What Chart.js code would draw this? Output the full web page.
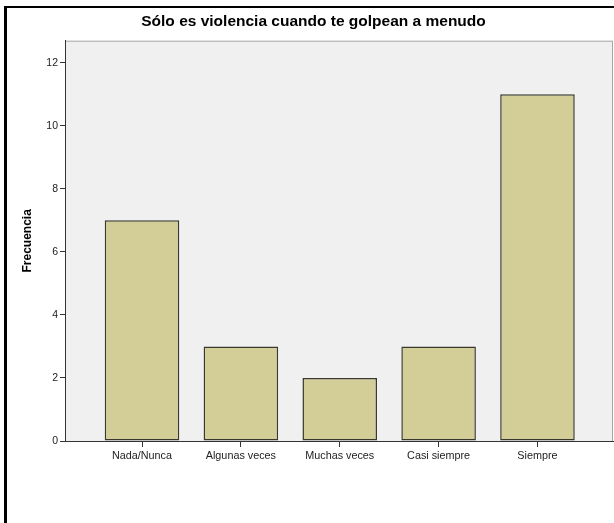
<!DOCTYPE html>
<html>
<head>
<meta charset="utf-8">
<script src="https://cdn.jsdelivr.net/npm/chart.js@4"></script>
<style>
  html, body { margin: 0; padding: 0; background: #fff; }
  #wrap { width: 614px; height: 523px; position: relative; }
</style>
</head>
<body>
<div id="wrap"><canvas id="chart"></canvas></div>
<script>
// Chart data
const categories = ['Nada/Nunca', 'Algunas veces', 'Muchas veces', 'Casi siempre', 'Siempre'];
const frequencies = [7, 3, 2, 3, 11];
const yTicks = [0, 2, 4, 6, 8, 10, 12];

// Plot background, plot frame and the outer black frame
const framePlugin = {
    id: 'frame',
    beforeDraw(chart) {
        const { ctx, chartArea: a } = chart;
        ctx.save();
        ctx.fillStyle = '#ffffff';
        ctx.fillRect(0, 0, chart.width, chart.height);
        ctx.fillStyle = '#f0f0f0';
        ctx.fillRect(a.left, a.top, a.right - a.left, a.bottom - a.top);
        ctx.strokeStyle = '#a8a8a8';
        ctx.lineWidth = 1;
        ctx.strokeRect(a.left + 0.5, a.top + 0.5, a.right - a.left - 1, a.bottom - a.top);
        ctx.restore();
    },
    afterDraw(chart) {
        const ctx = chart.ctx;
        ctx.save();
        ctx.fillStyle = '#000000';
        ctx.fillRect(4, 6, chart.width - 4, 2);   // top line
        ctx.fillRect(4, 6, 3, chart.height - 6);  // left line
        ctx.restore();
    }
};

new Chart(document.getElementById('chart'), {
    type: 'bar',
    data: {
        datasets: [{
            data: categories.map((c, i) => ({ x: i, y: frequencies[i] })),
            backgroundColor: '#d3ce97',
            borderColor: '#38382e',
            borderWidth: 1.5,
            borderSkipped: false,
            categoryPercentage: 1,
            barPercentage: 0.754
        }]
    },
    options: {
        responsive: true,
        maintainAspectRatio: false,
        animation: false,
        layout: { padding: { left: 14, right: 1, top: 0, bottom: 0 } },
        plugins: {
            legend: { display: false },
            tooltip: { enabled: false },
            title: {
                display: true,
                text: 'Sólo es violencia cuando te golpean a menudo',
                color: '#000',
                font: { family: "'Liberation Sans', Arial, sans-serif", size: 15.5, weight: 'bold' },
                padding: { top: 12.7, bottom: 9.4 }
            }
        },
        scales: {
            x: {
                type: 'linear',
                offset: false,
                min: -0.779,
                max: 4.764,
                afterBuildTicks: scale => {
                    scale.ticks = categories.map((c, i) => ({ value: i }));
                },
                afterFit: scale => { scale.height = 82; },
                grid: {
                    offset: false,
                    drawOnChartArea: false,
                    drawTicks: true,
                    tickLength: 6,
                    color: '#333'
                },
                border: { display: true, color: '#333', width: 1 },
                ticks: {
                    autoSkip: false,
                    maxRotation: 0,
                    padding: 3,
                    color: '#222',
                    font: { family: "'Liberation Sans', Arial, sans-serif", size: 10.8 },
                    callback: value => categories[value]
                }
            },
            y: {
                min: 0,
                max: 12.7,
                afterBuildTicks: scale => {
                    scale.ticks = yTicks.map(v => ({ value: v }));
                },
                afterFit: scale => { scale.width = 51; },
                grid: {
                    drawOnChartArea: false,
                    drawTicks: true,
                    tickLength: 5,
                    color: '#333'
                },
                border: { display: true, color: '#333', width: 1 },
                ticks: {
                    padding: 2,
                    color: '#222',
                    font: { family: "'Liberation Sans', Arial, sans-serif", size: 10.5 }
                },
                title: {
                    display: true,
                    text: 'Frecuencia',
                    color: '#000',
                    font: { family: "'Liberation Sans', Arial, sans-serif", size: 12, weight: 'bold' },
                    padding: { top: 6.8, bottom: 0 }
                }
            }
        }
    },
    plugins: [framePlugin]
});
</script>
</body>
</html>
